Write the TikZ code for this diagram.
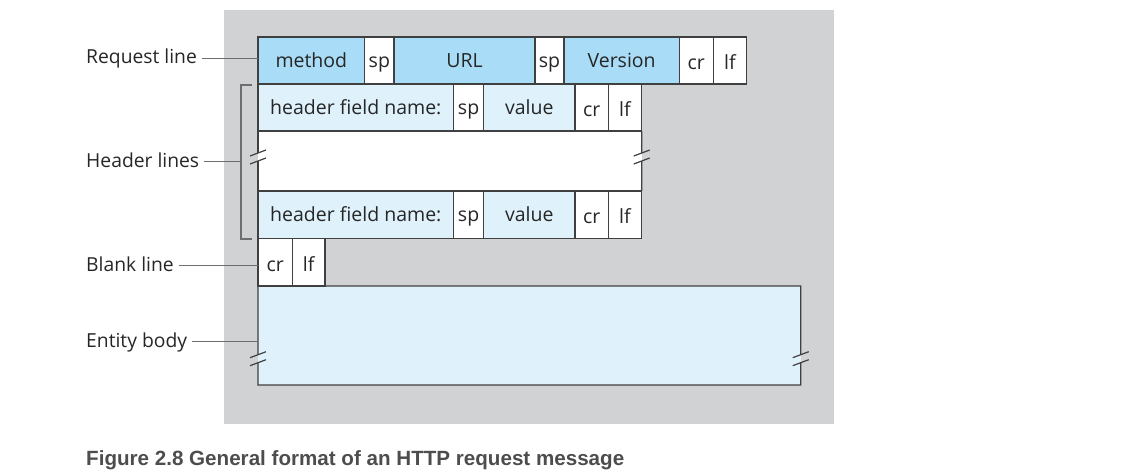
\documentclass[tikz,border=0pt]{standalone}
\usepackage{fontspec}
\setmainfont{Open Sans}
\newfontfamily\capfont{Liberation Sans}
\usepackage{tikz}
\usetikzlibrary{positioning}
\definecolor{panelgray}{HTML}{D1D2D4}
\definecolor{reqblue}{HTML}{A9DDF7}
\definecolor{hdrblue}{HTML}{DFF2FC}
\definecolor{cellline}{HTML}{404040}
\definecolor{leadgray}{HTML}{6E6E6E}
\definecolor{labeltext}{HTML}{262626}
\definecolor{captext}{HTML}{4D4D4D}

\begin{document}
\begin{tikzpicture}[x=1pt,y=-1pt,
    cell/.style={draw=cellline, line width=1.2pt, outer sep=0pt, inner sep=0pt,
      minimum height=47pt, text=labeltext, font=\fontsize{19.5}{22}\selectfont,
      text height=14pt, text depth=1pt},
    reqcell/.style={cell, fill=reqblue},
    hdrcell/.style={cell, fill=hdrblue},
    spcell/.style={cell, fill=white},
    crlfcell/.style={cell, fill=white, text height=19pt, text depth=1pt},
    sidelabel/.style={inner sep=0pt, anchor=west, text=labeltext,
      font=\fontsize{19.3}{22}\selectfont, text height=13pt, text depth=2pt},
    leader/.style={draw=leadgray, line width=1.2pt},
    edge line/.style={draw=cellline, line width=1.2pt}]
    \useasboundingbox (0,0) rectangle (1131,474);
    %panel
    \fill[panelgray] (224,10) rectangle (834,424);
    %open areas
    \node[fill=white, inner sep=0pt, outer sep=0pt, minimum width=383.7pt,
      minimum height=60pt, anchor=north west] (hgap) at (258,131) {};
    \node[fill=hdrblue, inner sep=0pt, outer sep=0pt, minimum width=542.7pt,
      minimum height=99pt, anchor=north west] (body) at (258,286) {};
    %request line
    \node[reqcell, minimum width=106.7pt, anchor=north west] (method) at (258,37) {method};
    \node[spcell, minimum width=29.3pt, right=0pt of method] (rsp1) {sp};
    \node[reqcell, minimum width=141pt, right=0pt of rsp1] (url) {URL};
    \node[spcell, minimum width=29pt, right=0pt of url] (rsp2) {sp};
    \node[reqcell, minimum width=115.3pt, right=0pt of rsp2] (version) {Version};
    \node[crlfcell, minimum width=34pt, right=0pt of version] (rcr) {cr};
    \node[crlfcell, minimum width=33.4pt, right=0pt of rcr] (rlf) {lf};
    %header lines
    \node[hdrcell, minimum width=195.6pt, anchor=north west] (hname1) at (258,84) {header field name:};
    \node[spcell, minimum width=30pt, right=0pt of hname1] (hsp1) {sp};
    \node[hdrcell, minimum width=91.4pt, right=0pt of hsp1] (hval1) {value};
    \node[crlfcell, minimum width=33.3pt, right=0pt of hval1] (hcr1) {cr};
    \node[crlfcell, minimum width=33.4pt, right=0pt of hcr1] (hlf1) {lf};
    \node[hdrcell, minimum width=195.6pt, minimum height=47.5pt, anchor=north west] (hname2) at (258,191) {header field name:};
    \node[spcell, minimum width=30pt, minimum height=47.5pt, right=0pt of hname2] (hsp2) {sp};
    \node[hdrcell, minimum width=91.4pt, minimum height=47.5pt, right=0pt of hsp2] (hval2) {value};
    \node[crlfcell, minimum width=33.3pt, minimum height=47.5pt, right=0pt of hval2] (hcr2) {cr};
    \node[crlfcell, minimum width=33.4pt, minimum height=47.5pt, right=0pt of hcr2] (hlf2) {lf};
    %blank line
    \node[crlfcell, minimum width=34.3pt, minimum height=47.5pt, anchor=north west] (bcr) at (258,238.5) {cr};
    \node[crlfcell, minimum width=32.7pt, minimum height=47.5pt, right=0pt of bcr] (blf) {lf};
    %broken edges
    \draw[edge line] (hgap.north west) -- (258,153) (258,161) -- (hgap.south west);
    \draw[edge line] (hgap.north east) -- (641.7,153) (641.7,161) -- (hgap.south east);
    \draw[edge line] (258,354.7) -- (body.north west) -- (body.north east) -- (800.7,354.7)
      (800.7,362.7) -- (body.south east) -- (body.south west) -- (258,362.7);
    \foreach \bx/\by in {258/157, 641.7/157, 258/358.7, 800.7/358.7}
      \draw[edge line] (\bx,\by) ++(-8,-1) -- ++(16,-6) (\bx,\by) ++(-8,7) -- ++(16,-6);
    %labels
    \node[sidelabel] (reqlbl) at (86,58.3) {Request line};
    \node[sidelabel] (hdrlbl) at (86,161.7) {Header lines};
    \node[sidelabel] (blanklbl) at (86,265.7) {Blank line};
    \node[sidelabel] (bodylbl) at (86,341.7) {Entity body};
    \coordinate (hdrbrk) at (241,161.7);
    \draw[leader] ([xshift=5pt]reqlbl.east) -- (reqlbl.east -| method.west);
    \draw[leader] (252,85) -- (241,85) -- (241,239) -- (252,239);
    \draw[leader] ([xshift=5pt]hdrlbl.east) -- (hdrbrk);
    \draw[leader] ([xshift=5pt]blanklbl.east) -- (blanklbl.east -| bcr.west);
    \draw[leader] ([xshift=5pt]bodylbl.east) -- (bodylbl.east -| body.west);
    %caption
    \node[anchor=base west, inner sep=0pt, text=captext,
      font=\capfont\bfseries\fontsize{20.6}{24}\selectfont] (caption) at (86,465)
      {Figure 2.8 General format of an HTTP request message};
\end{tikzpicture}
\end{document}
